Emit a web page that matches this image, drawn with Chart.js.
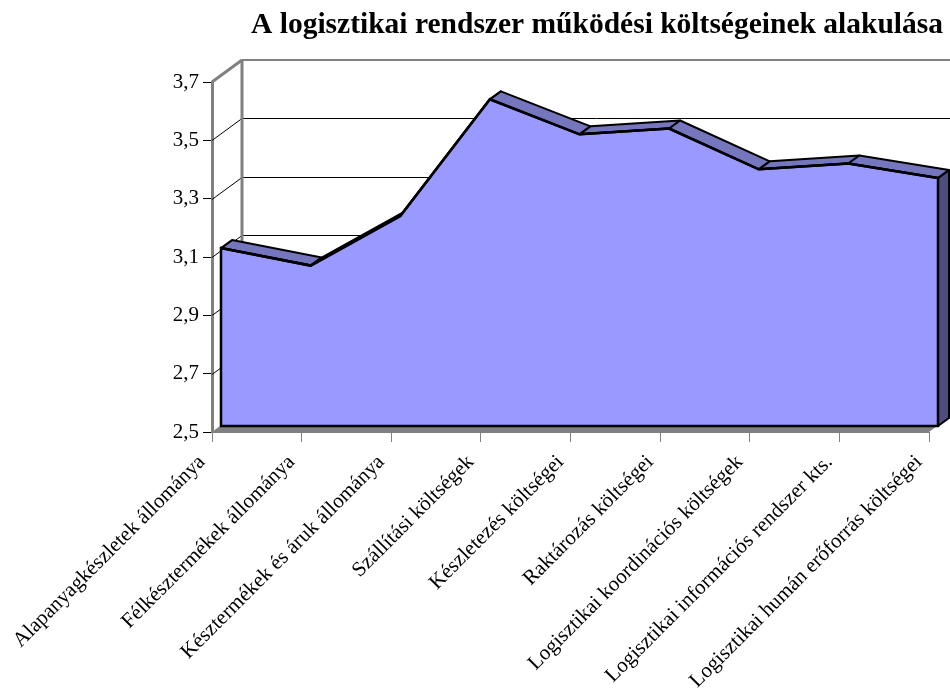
<!DOCTYPE html>
<html lang="hu">
<head>
<meta charset="utf-8">
<title>Logisztikai költségek</title>
<script src="https://cdn.jsdelivr.net/npm/chart.js@4.4.1/dist/chart.umd.min.js"></script>
<style>
  html, body { margin: 0; padding: 0; background: #fff; }
  canvas { display: block; }
</style>
</head>
<body>
<canvas id="chart" width="950" height="695"></canvas>
<script>
const chartTitle = 'A logisztikai rendszer működési költségeinek alakulása';

const categories = [
  'Alapanyagkészletek állománya',
  'Félkésztermékek állománya',
  'Késztermékek és áruk állománya',
  'Szállítási költségek',
  'Készletezés költségei',
  'Raktározás költségei',
  'Logisztikai koordinációs költségek',
  'Logisztikai információs rendszer kts.',
  'Logisztikai humán erőforrás költségei'
];

const costValues = [3.11, 3.05, 3.22, 3.62, 3.50, 3.52, 3.38, 3.40, 3.35];

const yTicks = [2.5, 2.7, 2.9, 3.1, 3.3, 3.5, 3.7];

const serif = "'Times New Roman', 'Liberation Serif', serif";

// fake 3D: series front plane, slab thickness, back wall
const SHIFT = { x: 9, y: -6 };
const DEPTH = { x: 11, y: -8 };
const WALL = { x: 30, y: -22 };

function line(ctx, x1, y1, x2, y2) {
  ctx.beginPath();
  ctx.moveTo(x1, y1);
  ctx.lineTo(x2, y2);
  ctx.stroke();
}

const box3d = {
  id: 'box3d',
  beforeDatasetsDraw(chart) {
    const { ctx, chartArea: a, scales: { y } } = chart;
    const top = y.getPixelForValue(yTicks[yTicks.length - 1]);
    const bottom = y.getPixelForValue(yTicks[0]);

    ctx.save();
    // floor
    ctx.fillStyle = '#808080';
    ctx.beginPath();
    ctx.moveTo(a.left, bottom);
    ctx.lineTo(a.right, bottom);
    ctx.lineTo(a.right + WALL.x, bottom + WALL.y);
    ctx.lineTo(a.left + WALL.x, bottom + WALL.y);
    ctx.closePath();
    ctx.fill();

    // gridlines over the side wall and the back wall
    ctx.strokeStyle = '#000';
    ctx.lineWidth = 1;
    yTicks.slice(1, -1).forEach(v => {
      const py = Math.round(y.getPixelForValue(v)) + 0.5;
      line(ctx, a.left, py, a.left + WALL.x, py + WALL.y);
      line(ctx, a.left + WALL.x, py + WALL.y, a.right + WALL.x, py + WALL.y);
    });

    // wall edges
    ctx.strokeStyle = '#808080';
    ctx.lineWidth = 3;
    line(ctx, a.left, top, a.left + WALL.x, top + WALL.y);
    line(ctx, a.left + WALL.x, top + WALL.y, a.left + WALL.x, bottom + WALL.y);
    ctx.lineWidth = 2;
    line(ctx, a.left + WALL.x, top + WALL.y, a.right + WALL.x, top + WALL.y);
    ctx.restore();

    // slab top and right side, drawn in the series plane
    ctx.save();
    ctx.translate(SHIFT.x, SHIFT.y);
    const pts = chart.getDatasetMeta(0).data;
    ctx.strokeStyle = '#000';
    ctx.lineWidth = 2;
    ctx.lineJoin = 'round';
    ctx.fillStyle = '#7676BE';
    for (let i = 0; i < pts.length - 1; i++) {
      const p = pts[i], q = pts[i + 1];
      ctx.beginPath();
      ctx.moveTo(p.x, p.y);
      ctx.lineTo(q.x, q.y);
      ctx.lineTo(q.x + DEPTH.x, q.y + DEPTH.y);
      ctx.lineTo(p.x + DEPTH.x, p.y + DEPTH.y);
      ctx.closePath();
      ctx.fill();
      ctx.stroke();
    }
    const last = pts[pts.length - 1];
    ctx.fillStyle = '#4D4D80';
    ctx.beginPath();
    ctx.moveTo(last.x, last.y);
    ctx.lineTo(last.x + DEPTH.x, last.y + DEPTH.y);
    ctx.lineTo(last.x + DEPTH.x, bottom + DEPTH.y);
    ctx.lineTo(last.x, bottom);
    ctx.closePath();
    ctx.fill();
    ctx.stroke();
    // translation stays on while the dataset is drawn
  },
  afterDatasetsDraw(chart) {
    const { ctx, scales: { y } } = chart;
    const bottom = y.getPixelForValue(yTicks[0]);
    const pts = chart.getDatasetMeta(0).data;
    ctx.strokeStyle = '#000';
    ctx.lineWidth = 2.5;
    ctx.lineJoin = 'miter';
    ctx.beginPath();
    ctx.moveTo(pts[0].x, bottom);
    pts.forEach(p => ctx.lineTo(p.x, p.y));
    ctx.lineTo(pts[pts.length - 1].x, bottom);
    ctx.closePath();
    ctx.stroke();
    ctx.restore();
  },
  afterDraw(chart) {
    const { ctx } = chart;
    ctx.save();
    ctx.fillStyle = '#000';
    ctx.font = 'bold 29.5px ' + serif;
    ctx.textAlign = 'center';
    ctx.textBaseline = 'alphabetic';
    ctx.fillText(chartTitle, 597, 33);
    ctx.restore();
  }
};

Chart.defaults.color = '#000';
Chart.defaults.font.family = serif;

new Chart(document.getElementById('chart'), {
  type: 'line',
  data: {
    labels: categories,
    datasets: [{
      data: costValues,
      fill: 'start',
      backgroundColor: '#9999FF',
      borderColor: '#000',
      borderWidth: 2.5,
      pointRadius: 0,
      tension: 0,
      clip: false
    }]
  },
  options: {
    responsive: false,
    animation: false,
    devicePixelRatio: 1,
    layout: { padding: { top: 82, right: 21, left: 0, bottom: 0 } },
    plugins: {
      legend: { display: false },
      title: { display: false },
      tooltip: { enabled: false }
    },
    scales: {
      x: {
        offset: false,
        grid: { display: true, drawOnChartArea: false, tickLength: 10, color: '#808080' },
        border: { display: true, color: '#808080', width: 1 },
        ticks: {
          autoSkip: false,
          minRotation: 45,
          maxRotation: 45,
          padding: 8,
          labelOffset: -10,
          font: { size: 21 }
        },
        afterFit(scale) {
          scale.height = 695 - 432;
          scale.paddingLeft = 0;
          scale.paddingRight = 0;
        }
      },
      y: {
        min: 2.5,
        max: 3.7,
        grid: { display: true, drawOnChartArea: false, tickLength: 9, color: '#000' },
        border: { display: true, color: '#808080', width: 3 },
        ticks: {
          padding: 4,
          font: { size: 21 },
          callback: v => v.toFixed(1).replace('.', ',')
        },
        afterBuildTicks(scale) { scale.ticks = yTicks.map(v => ({ value: v })); },
        afterFit(scale) { scale.width = 212; }
      }
    }
  },
  plugins: [box3d]
});
</script>
</body>
</html>
